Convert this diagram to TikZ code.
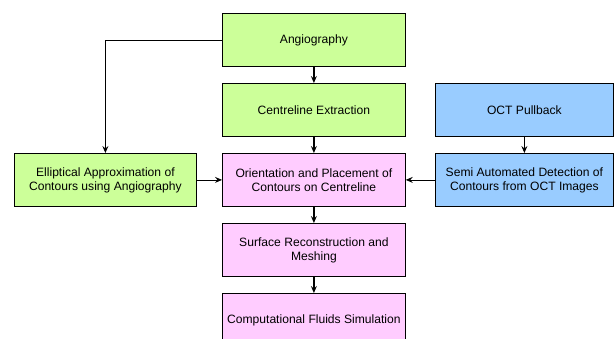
\documentclass[tikz,border=0pt]{standalone}
\usepackage{fontspec}
\setmainfont{Liberation Sans}
\usetikzlibrary{arrows.meta}
\definecolor{boxgreen}{HTML}{CCFF99}
\definecolor{boxpink}{HTML}{FFCCFF}
\definecolor{boxblue}{HTML}{99CCFF}
\begin{document}
\begin{tikzpicture}[x=1pt,y=-1pt,
  box/.style={draw=black, line width=0.8pt, minimum height=53pt, inner sep=0pt,
    align=center, anchor=north west, font=\fontsize{12.1}{14}\selectfont},
  wide/.style={minimum width=183pt},
  narrow/.style={minimum width=178pt},
  green/.style={fill=boxgreen},
  pink/.style={fill=boxpink},
  blue/.style={fill=boxblue},
  arr/.style={draw=black, line width=0.8pt, -{Stealth[length=7pt,width=6pt,inset=2.5pt]}},
  thickarr/.style={arr, line width=1.3pt}]
\useasboundingbox (0,0) rectangle (614,338);
\node[box,wide,green] (ang) at (222,13) {Angiography};
\node[box,wide,green] (cen) at (222,83) {Centreline Extraction};
\node[box,narrow,blue] (oct) at (435,83) {OCT Pullback};
\node[box,minimum width=182pt,green] (ell) at (14,153) {Elliptical Approximation of\\Contours using Angiography};
\node[box,wide,pink] (ori) at (222,153) {Orientation and Placement of\\Contours on Centreline};
\node[box,narrow,blue] (semi) at (435,153) {Semi Automated Detection of\\Contours from OCT Images};
\node[box,wide,pink] (sur) at (222,223) {Surface Reconstruction and\\Meshing};
\node[box,wide,pink] (cfd) at (222,293) {Computational Fluids Simulation};
\draw[thickarr] (ang.south) -- (cen.north);
\draw[thickarr] (cen.south) -- (ori.north);
\draw[thickarr] (ori.south) -- (sur.north);
\draw[thickarr] (sur.south) -- (cfd.north);
\draw[arr] (ang.west) -| (ell.north);
\draw[arr] (ell.east) -- (ori.west);
\draw[arr] (semi.west) -- (ori.east);
\draw[arr] (oct.south) -- (semi.north);
\end{tikzpicture}
\end{document}
